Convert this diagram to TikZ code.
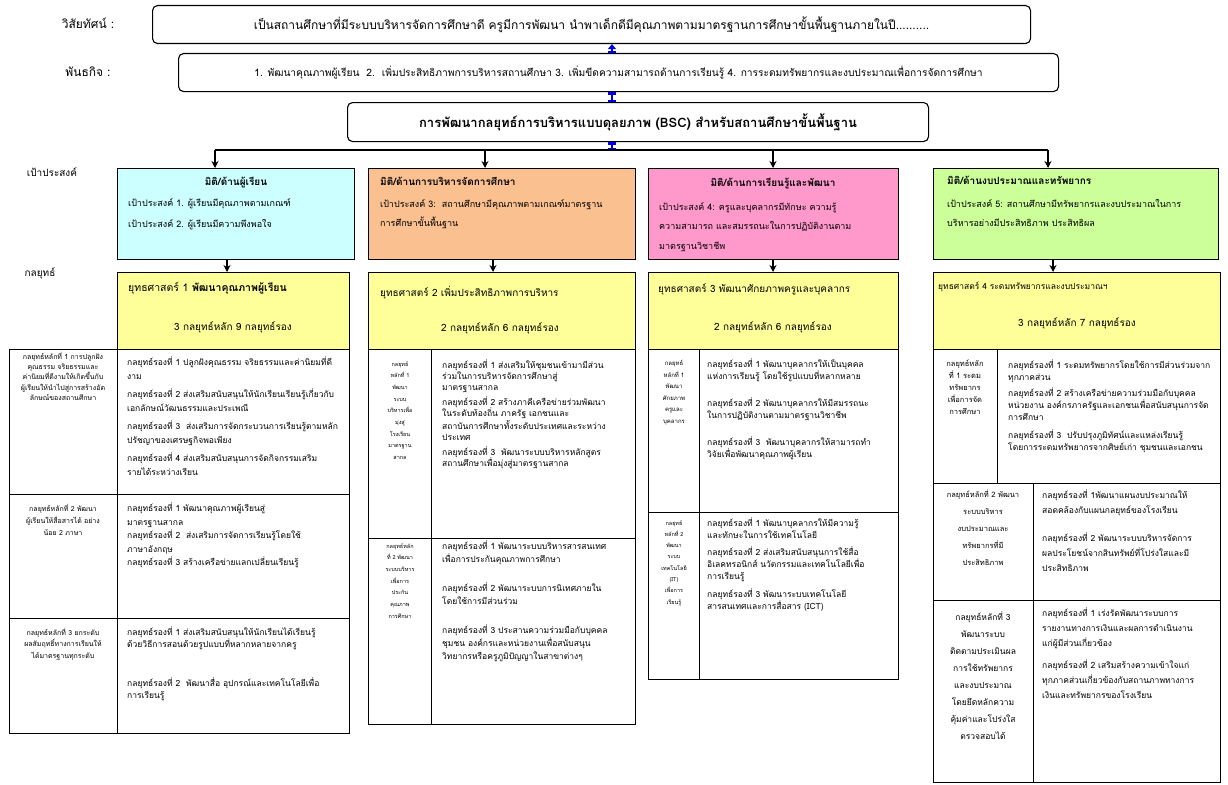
\documentclass[tikz,border=0pt]{standalone}
\usepackage{fontspec}
\setmainfont[Script=Thai]{Loma}
\usepackage{tikz}
\usetikzlibrary{positioning,arrows.meta}
\usepackage{xcolor}

\definecolor{dimcyan}{HTML}{CCFFFF}
\definecolor{dimpeach}{HTML}{FAC090}
\definecolor{dimpink}{HTML}{FF99CC}
\definecolor{dimgreen}{HTML}{CCFF99}
\definecolor{stratyellow}{HTML}{FFFF99}
\definecolor{linkblue}{HTML}{0000E0}

\newcommand{\tsize}[2]{\fontsize{#1}{#2}\selectfont}

\begin{document}
\begin{tikzpicture}[x=1pt, y=-1pt,
  frame/.style={draw, line width=1.1pt, rounded corners=5pt, inner sep=0, anchor=north west},
  panel/.style={draw, line width=1.3pt, inner sep=0, anchor=north west},
  cell/.style={draw, line width=1.3pt, inner sep=0, anchor=north west},
  txt/.style={inner sep=0, anchor=north west, align=left},
  ctxt/.style={inner sep=0, anchor=north, align=center},
  drop/.style={line width=1.3pt, -{Stealth[length=7pt, width=7pt]}},
  link/.style={linkblue, line width=2.4pt, {Bar[width=8pt]}-{Bar[width=8pt]}},
]
\useasboundingbox (0,0) rectangle (1228,784);
\fill[white] (0,0) rectangle (1228,784);

% vision, mission, bsc
\node[font=\tsize{12}{14}] (vision-lbl) at (88,23) {วิสัยทัศน์ :};
\node[frame, minimum width=878, minimum height=38, font=\tsize{12}{14}] (vision) at (152,5)
  {เป็นสถานศึกษาที่มีระบบบริหารจัดการศึกษาดี ครูมีการพัฒนา นำพาเด็กดีมีคุณภาพตามมาตรฐานการศึกษาขั้นพื้นฐานภายในปี..........};
\node[font=\tsize{12}{14}] (mission-lbl) at (88,72) {พันธกิจ :};
\node[frame, minimum width=880, minimum height=38, font=\tsize{10.2}{12}] (mission) at (178,53)
  {1. พัฒนาคุณภาพผู้เรียน~~2.~~เพิ่มประสิทธิภาพการบริหารสถานศึกษา 3. เพิ่มขีดความสามารถด้านการเรียนรู้ 4. การระดมทรัพยากรและงบประมาณเพื่อการจัดการศึกษา};
\node[frame, minimum width=581, minimum height=39, font=\bfseries\tsize{13}{15}] (bsc) at (347,102)
  {การพัฒนากลยุทธ์การบริหารแบบดุลยภาพ (BSC) สำหรับสถานศึกษาขั้นพื้นฐาน};

\coordinate (spine) at (612,0);
\coordinate (bus) at (612,150);
\draw[linkblue, line width=2.4pt, {Bar[width=8pt]}-{Triangle[width=8pt, length=5pt]}]
  (mission.north -| spine) -- (vision.south -| spine);
\draw[link] (mission.south -| spine) -- (bsc.north -| spine);
\draw[link] (bsc.south -| spine) -- (bus);

\node[font=\tsize{10}{12}] (goal-lbl) at (52,172) {เป้าประสงค์};
\node[font=\tsize{10}{12}] (strat-lbl) at (40,273) {กลยุทธ์};

% four dimensions
\foreach \n/\x/\w/\c in {1/117/237/dimcyan, 2/368/267/dimpeach, 3/648/250/dimpink, 4/933/285/dimgreen}
  \node[panel, fill=\c, minimum width=\w, minimum height=91] (dim-\n) at (\x,168) {};

\foreach \n/\x/\w in {1/117/232, 2/368/267, 3/648/250, 4/933/287}
  \node[panel, fill=stratyellow, minimum width=\w, minimum height=77] (strat-\n) at (\x,272) {};

\foreach \n/\x in {1/215, 2/485, 3/773, 4/1048}
  \coordinate (top-\n) at (\x,150);
\draw[line width=1.8pt] (top-1) -- (top-4);
\foreach \n in {1,...,4}
  \draw[drop] (top-\n) -- (top-\n |- dim-\n.north);

\foreach \n/\x in {1/227, 2/493, 3/773, 4/1053}
  \coordinate (mid-\n) at (\x,265);
\foreach \n in {1,...,4}
  \draw[drop] (mid-\n |- dim-\n.south) -- (mid-\n |- strat-\n.north);

\node[inner sep=0, font=\bfseries\tsize{10}{12}] (dim-1-title) at (236,182) {มิติ/ด้านผู้เรียน};
\node[txt, font=\tsize{9}{21}] (dim-1-goal) at (128,198)
  {เป้าประสงค์ 1. ผู้เรียนมีคุณภาพตามเกณฑ์\\เป้าประสงค์ 2. ผู้เรียนมีความพึงพอใจ};
\node[txt, font=\bfseries\tsize{10}{12}] (dim-2-title) at (380,177) {มิติ/ด้านการบริหารจัดการศึกษา};
\node[txt, font=\tsize{9}{19}] (dim-2-goal) at (380,199)
  {เป้าประสงค์ 3:~~สถานศึกษามีคุณภาพตามเกณฑ์มาตรฐาน\\การศึกษาขั้นพื้นฐาน};
\node[inner sep=0, font=\bfseries\tsize{10}{12}] (dim-3-title) at (773,183) {มิติ/ด้านการเรียนรู้และพัฒนา};
\node[txt, font=\tsize{9}{19.5}] (dim-3-goal) at (659,202)
  {เป้าประสงค์ 4: ครูและบุคลากรมีทักษะ ความรู้\\ความสามารถ และสมรรถนะในการปฏิบัติงานตาม\\มาตรฐานวิชาชีพ};
\node[txt, font=\bfseries\tsize{10}{12}] (dim-4-title) at (947,176) {มิติ/ด้านงบประมาณและทรัพยากร};
\node[txt, font=\tsize{9}{19}] (dim-4-goal) at (947,199)
  {เป้าประสงค์ 5: สถานศึกษามีทรัพยากรและงบประมาณในการ\\บริหารอย่างมีประสิทธิภาพ ประสิทธิผล};

% strategies
\node[txt, font=\tsize{10.5}{12}] (strat-1-name) at (128,282) {ยุทธศาสตร์ 1 \textbf{พัฒนาคุณภาพผู้เรียน}};
\node[inner sep=0, font=\tsize{10}{12}] (strat-1-count) at (233,327) {3 กลยุทธ์หลัก 9 กลยุทธ์รอง};
\node[txt, font=\tsize{10}{12}] (strat-2-name) at (380,286) {ยุทธศาสตร์ 2 เพิ่มประสิทธิภาพการบริหาร};
\node[inner sep=0, font=\tsize{10}{12}] (strat-2-count) at (500,328) {2 กลยุทธ์หลัก 6 กลยุทธ์รอง};
\node[txt, font=\tsize{10}{12}] (strat-3-name) at (658,284) {ยุทธศาสตร์ 3 พัฒนาศักยภาพครูและบุคลากร};
\node[inner sep=0, font=\tsize{10}{12}] (strat-3-count) at (773,327) {2 กลยุทธ์หลัก 6 กลยุทธ์รอง};
\node[txt, font=\tsize{8.5}{10}] (strat-4-name) at (938,282) {ยุทธศาสตร์ 4 ระดมทรัพยากรและงบประมาณฯ};
\node[inner sep=0, font=\tsize{10}{12}] (strat-4-count) at (1077,323) {3 กลยุทธ์หลัก 7 กลยุทธ์รอง};

% table 1
\foreach \r/\y/\h in {1/349/145, 2/494/124, 3/618/115} {
  \node[cell, minimum width=108, minimum height=\h] (t1-\r-a) at (9,\y) {};
  \node[cell, minimum width=232, minimum height=\h] (t1-\r-b) at (117,\y) {};
}
\node[ctxt, font=\tsize{7}{10.2}] (t1-1-a-text) at (63,352)
  {กลยุทธ์หลักที่ 1 การปลูกฝัง\\คุณธรรม จริยธรรมและ\\ค่านิยมที่ดีงามให้เกิดขึ้นกับ\\ผู้เรียนให้นำไปสู่การสร้างอัต\\ลักษณ์ของสถานศึกษา};
\node[txt, font=\tsize{8.5}{14}] (t1-1-b-text) at (127,357)
  {กลยุทธ์รองที่ 1 ปลูกฝังคุณธรรม จริยธรรมและค่านิยมที่ดี\\งาม\\[4pt]
   กลยุทธ์รองที่ 2 ส่งเสริมสนับสนุนให้นักเรียนเรียนรู้เกี่ยวกับ\\เอกลักษณ์วัฒนธรรมและประเพณี\\[4pt]
   กลยุทธ์รองที่ 3~~ส่งเสริมการจัดกระบวนการเรียนรู้ตามหลัก\\ปรัชญาของเศรษฐกิจพอเพียง\\[4pt]
   กลยุทธ์รองที่ 4 ส่งเสริมสนับสนุนการจัดกิจกรรมเสริม\\รายได้ระหว่างเรียน};
\node[ctxt, font=\tsize{7}{12}] (t1-2-a-text) at (63,504)
  {กลยุทธ์หลักที่ 2 พัฒนา\\ผู้เรียนให้สื่อสารได้ อย่าง\\น้อย 2 ภาษา};
\node[txt, font=\tsize{8.5}{13.5}] (t1-2-b-text) at (127,503)
  {กลยุทธ์รองที่ 1 พัฒนาคุณภาพผู้เรียนสู่\\มาตรฐานสากล\\
   กลยุทธ์รองที่ 2~~ส่งเสริมการจัดการเรียนรู้โดยใช้\\ภาษาอังกฤษ\\
   กลยุทธ์รองที่ 3 สร้างเครือข่ายแลกเปลี่ยนเรียนรู้};
\node[ctxt, font=\tsize{7}{11.5}] (t1-3-a-text) at (63,628)
  {กลยุทธ์หลักที่ 3 ยกระดับ\\ผลสัมฤทธิ์ทางการเรียนให้\\ได้มาตรฐานทุกระดับ};
\node[txt, font=\tsize{8.5}{12}] (t1-3-b-text) at (127,627)
  {กลยุทธ์รองที่ 1 ส่งเสริมสนับสนุนให้นักเรียนได้เรียนรู้\\ด้วยวิธีการสอนด้วยรูปแบบที่หลากหลายจากครู\\[27pt]
   กลยุทธ์รองที่ 2~~พัฒนาสื่อ อุปกรณ์และเทคโนโลยีเพื่อ\\การเรียนรู้};

% table 2
\foreach \r/\y/\h in {1/349/189, 2/538/186} {
  \node[cell, minimum width=63, minimum height=\h] (t2-\r-a) at (368,\y) {};
  \node[cell, minimum width=204, minimum height=\h] (t2-\r-b) at (431,\y) {};
}
\node[ctxt, font=\tsize{5.5}{11.7}] (t2-1-a-text) at (400,361)
  {กลยุทธ์\\หลักที่ 1\\พัฒนา\\ระบบ\\บริหารเพื่อ\\มุ่งสู่\\โรงเรียน\\มาตรฐาน\\สากล};
\node[txt, font=\tsize{8.5}{11}] (t2-1-b-text) at (442,360)
  {กลยุทธ์รองที่ 1 ส่งเสริมให้ชุมชนเข้ามามีส่วน\\ร่วมในการบริหารจัดการศึกษาสู่\\มาตรฐานสากล\\[4pt]
   กลยุทธ์รองที่ 2 สร้างภาคีเครือข่ายร่วมพัฒนา\\ในระดับท้องถิ่น ภาครัฐ เอกชนและ\\สถาบันการศึกษาทั้งระดับประเทศและระหว่าง\\ประเทศ\\[4pt]
   กลยุทธ์รองที่ 3~~พัฒนาระบบบริหารหลักสูตร\\สถานศึกษาเพื่อมุ่งสู่มาตรฐานสากล};
\node[ctxt, font=\tsize{5.5}{11.7}] (t2-2-a-text) at (400,543)
  {กลยุทธ์หลัก\\ที่ 2 พัฒนา\\ระบบบริหาร\\เพื่อการ\\ประกัน\\คุณภาพ\\การศึกษา};
\node[txt, font=\tsize{8.5}{13}] (t2-2-b-text) at (442,541)
  {กลยุทธ์รองที่ 1 พัฒนาระบบบริหารสารสนเทศ\\เพื่อการประกันคุณภาพการศึกษา\\[16pt]
   กลยุทธ์รองที่ 2 พัฒนาระบบการนิเทศภายใน\\โดยใช้การมีส่วนร่วม\\[16pt]
   กลยุทธ์รองที่ 3 ประสานความร่วมมือกับบุคคล\\ชุมชน องค์กรและหน่วยงานเพื่อสนับสนุน\\วิทยากรหรือครูภูมิปัญญาในสาขาต่างๆ};

% table 3
\foreach \r/\y/\h in {1/349/163, 2/512/167} {
  \node[cell, minimum width=51, minimum height=\h] (t3-\r-a) at (648,\y) {};
  \node[cell, minimum width=199, minimum height=\h] (t3-\r-b) at (699,\y) {};
}
\node[ctxt, font=\tsize{6}{11.6}] (t3-1-a-text) at (674,360)
  {กลยุทธ์\\หลักที่ 1\\พัฒนา\\ศักยภาพ\\ครูและ\\บุคลากร};
\node[txt, font=\tsize{8.5}{12}] (t3-1-b-text) at (707,359)
  {กลยุทธ์รองที่ 1 พัฒนาบุคลากรให้เป็นบุคคล\\แห่งการเรียนรู้ โดยใช้รูปแบบที่หลากหลาย\\[15pt]
   กลยุทธ์รองที่ 2 พัฒนาบุคลากรให้มีสมรรถนะ\\ในการปฏิบัติงานตามมาตรฐานวิชาชีพ\\[15pt]
   กลยุทธ์รองที่ 3~~พัฒนาบุคลากรให้สามารถทำ\\วิจัยเพื่อพัฒนาคุณภาพผู้เรียน};
\node[ctxt, font=\tsize{5.5}{11.3}] (t3-2-a-text) at (674,520)
  {กลยุทธ์\\หลักที่ 2\\พัฒนา\\ระบบ\\เทคโนโลยี\\(IT)\\เพื่อการ\\เรียนรู้};
\node[txt, font=\tsize{8.5}{12}] (t3-2-b-text) at (707,518)
  {กลยุทธ์รองที่ 1 พัฒนาบุคลากรให้มีความรู้\\และทักษะในการใช้เทคโนโลยี\\[5pt]
   กลยุทธ์รองที่ 2 ส่งเสริมสนับสนุนการใช้สื่อ\\อิเลคทรอนิกส์ นวัตกรรมและเทคโนโลยีเพื่อ\\การเรียนรู้\\[6pt]
   กลยุทธ์รองที่ 3 พัฒนาระบบเทคโนโลยี\\สารสนเทศและการสื่อสาร (ICT)};

% table 4
\node[cell, minimum width=64, minimum height=134] (t4-1-a) at (933,349) {};
\node[cell, minimum width=223, minimum height=134] (t4-1-b) at (997,349) {};
\foreach \r/\y/\h in {2/483/117, 3/600/182} {
  \node[cell, minimum width=100, minimum height=\h] (t4-\r-a) at (933,\y) {};
  \node[cell, minimum width=187, minimum height=\h] (t4-\r-b) at (1033,\y) {};
}
\node[ctxt, font=\tsize{7.5}{12}] (t4-1-a-text) at (965,360)
  {กลยุทธ์หลัก\\ที่ 1 ระดม\\ทรัพยากร\\เพื่อการจัด\\การศึกษา};
\node[txt, font=\tsize{8.5}{12}] (t4-1-b-text) at (1008,360)
  {กลยุทธ์รองที่ 1 ระดมทรัพยากรโดยใช้การมีส่วนร่วมจาก\\ทุกภาคส่วน\\[4pt]
   กลยุทธ์รองที่ 2 สร้างเครือข่ายความร่วมมือกับบุคคล\\หน่วยงาน องค์กรภาครัฐและเอกชนเพื่อสนับสนุนการจัด\\การศึกษา\\[6pt]
   กลยุทธ์รองที่ 3~~ปรับปรุงภูมิทัศน์และแหล่งเรียนรู้\\โดยการระดมทรัพยากรจากศิษย์เก่า ชุมชนและเอกชน};
\node[ctxt, font=\tsize{7.5}{17}] (t4-2-a-text) at (983,490)
  {กลยุทธ์หลักที่ 2 พัฒนา\\ระบบบริหาร\\งบประมาณและ\\ทรัพยากรที่มี\\ประสิทธิภาพ};
\node[txt, font=\tsize{8.5}{15}] (t4-2-b-text) at (1042,490)
  {กลยุทธ์รองที่ 1พัฒนาแผนงบประมาณให้\\สอดคล้องกับแผนกลยุทธ์ของโรงเรียน\\[13pt]
   กลยุทธ์รองที่ 2 พัฒนาระบบบริหารจัดการ\\ผลประโยชน์จากสินทรัพย์ที่โปร่งใสและมี\\ประสิทธิภาพ};
\node[ctxt, font=\tsize{8.5}{17}] (t4-3-a-text) at (983,612)
  {กลยุทธ์หลักที่ 3\\พัฒนาระบบ\\ติดตามประเมินผล\\การใช้ทรัพยากร\\และงบประมาณ\\โดยยึดหลักความ\\คุ้มค่าและโปร่งใส\\ตรวจสอบได้};
\node[txt, font=\tsize{8.5}{15}] (t4-3-b-text) at (1042,608)
  {กลยุทธ์รองที่ 1 เร่งรัดพัฒนาระบบการ\\รายงานทางการเงินและผลการดำเนินงาน\\แก่ผู้มีส่วนเกี่ยวข้อง\\[7pt]
   กลยุทธ์รองที่ 2 เสริมสร้างความเข้าใจแก่\\ทุกภาคส่วนเกี่ยวข้องกับสถานภาพทางการ\\เงินและทรัพยากรของโรงเรียน};
\end{tikzpicture}
\end{document}
